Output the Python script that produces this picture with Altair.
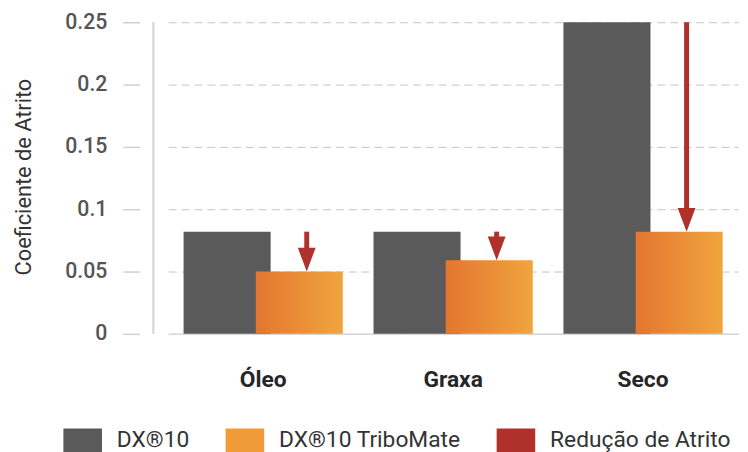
import altair as alt
import pandas as pd

categories = ["Óleo", "Graxa", "Seco"]
dx10 = [0.082, 0.082, 0.25]
tribomate = [0.05, 0.059, 0.082]
series_names = ["DX®10", "DX®10 TriboMate", "Redução de Atrito"]
y_ticks = [0, 0.05, 0.1, 0.15, 0.2, 0.25]

DARK = "#5a5a5a"
ORANGE = "#ee9b38"
RED = "#b0302b"
FONT = "Roboto"

wide = pd.DataFrame({"category": categories, "dx10": dx10, "tribo": tribomate})
dark_df = pd.DataFrame({"category": categories, "value": dx10, "series": series_names[0]})

W, H = 592, 315

x = alt.X(
    "category:N",
    sort=categories,
    scale=alt.Scale(paddingInner=0, paddingOuter=0, range=[15, 591]),
    axis=alt.Axis(
        title=None, ticks=False, labelAngle=0, labelFont=FONT, labelFontSize=23,
        labelFontWeight="bold", labelColor="#262626", labelPadding=35,
        domain=True, domainColor="#d6d6d6", domainWidth=1.5, grid=False,
    ),
)
yscale = alt.Scale(domain=[0, 0.25], nice=False)
yaxis = alt.Axis(
    title="Coeficiente de Atrito", titleFont=FONT, titleFontSize=22, titleFontWeight="normal",
    titleColor="#333333", titlePadding=30, titleY=156,
    values=y_ticks, format="~g", labelFont=FONT, labelFontSize=21.5, labelFontWeight=500,
    labelColor="#555555", labelPadding=16, offset=14, tickSize=17, tickColor="#d0d0d0",
    tickWidth=1.5, domain=False, grid=True, gridColor="#c4c4c4", gridDash=[8, 5], gridWidth=1,
)

dark = alt.Chart(dark_df).mark_bar(width=88, xOffset=-36.5).encode(
    x=x,
    y=alt.Y("value:Q", scale=yscale, axis=yaxis),
    color=alt.Color(
        "series:N",
        scale=alt.Scale(domain=series_names, range=[DARK, ORANGE, RED]),
        legend=alt.Legend(
            orient="none", legendX=-91, legendY=403, direction="horizontal", title=None,
            symbolType="M-1,-0.615H1V0.615H-1Z", symbolSize=1521, symbolStrokeWidth=0,
            symbolOpacity=1, labelFont=FONT, labelFontSize=23, labelColor="#333333",
            labelOffset=15, columnPadding=36, padding=0, labelLimit=400,
        ),
    ),
)

gradient = alt.LinearGradient(
    gradient="linear",
    stops=[alt.GradientStop(color="#e47631", offset=0), alt.GradientStop(color="#f0a53e", offset=1)],
    x1=0, x2=1, y1=0, y2=0,
)
orange = alt.Chart(wide).mark_bar(width=88, xOffset=36.5, fill=gradient).encode(
    x=alt.X("category:N", sort=categories),
    y=alt.Y("tribo:Q"),
)

shaft = alt.Chart(wide).mark_rule(xOffset=44, strokeWidth=5, color=RED, y2Offset=-22).encode(
    x=alt.X("category:N", sort=categories),
    y=alt.Y("dx10:Q"),
    y2="tribo:Q",
)
head = alt.Chart(wide).mark_point(
    shape="M-0.75,-2L0.75,-2L0,0Z", size=576, filled=True, opacity=1, color=RED, xOffset=44
).encode(
    x=alt.X("category:N", sort=categories),
    y=alt.Y("tribo:Q"),
)

left_line = alt.Chart(wide).mark_rule(color="#d6d6d6", strokeWidth=1.5).encode(
    x=alt.value(0), y=alt.datum(0), y2=alt.datum(0.25)
)

chart = alt.layer(left_line, dark, orange, shaft, head).properties(
    width=W, height=H,
    autosize=alt.AutoSizeParams(type="none"),
    padding={"left": 147, "top": 12, "right": 1, "bottom": 117},
).configure_view(stroke=None)

chart.save("out.html", embed_options={"renderer": "svg", "actions": False})
